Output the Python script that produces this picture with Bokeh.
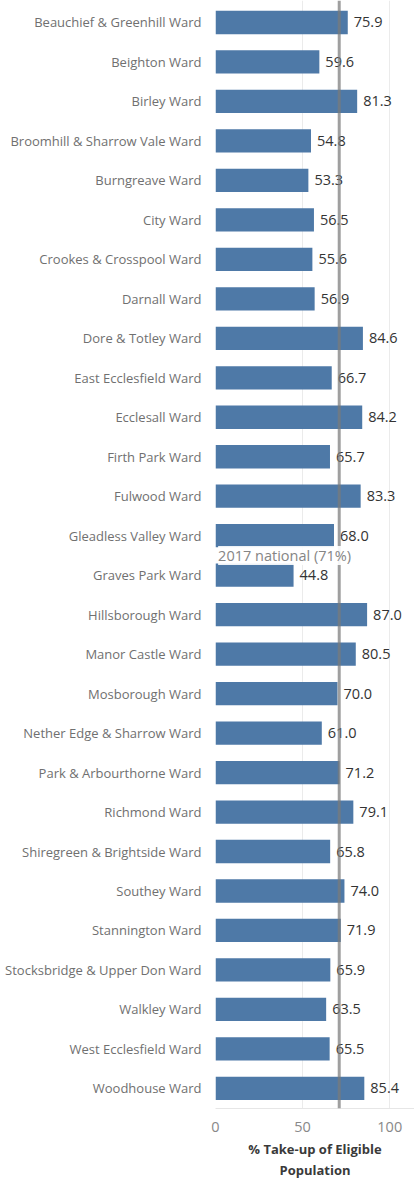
from bokeh.plotting import figure
from bokeh.models import ColumnDataSource, Range1d, FixedTicker, Span, Label
from bokeh.core.properties import value
from bokeh.embed import file_html
from bokeh.resources import INLINE

wards = [
    "Beauchief & Greenhill Ward", "Beighton Ward", "Birley Ward",
    "Broomhill & Sharrow Vale Ward", "Burngreave Ward", "City Ward",
    "Crookes & Crosspool Ward", "Darnall Ward", "Dore & Totley Ward",
    "East Ecclesfield Ward", "Ecclesall Ward", "Firth Park Ward",
    "Fulwood Ward", "Gleadless Valley Ward", "Graves Park Ward",
    "Hillsborough Ward", "Manor Castle Ward", "Mosborough Ward",
    "Nether Edge & Sharrow Ward", "Park & Arbourthorne Ward", "Richmond Ward",
    "Shiregreen & Brightside Ward", "Southey Ward", "Stannington Ward",
    "Stocksbridge & Upper Don Ward", "Walkley Ward", "West Ecclesfield Ward",
    "Woodhouse Ward",
]
takeup = [75.9, 59.6, 81.3, 54.8, 53.3, 56.5, 55.6, 56.9, 84.6, 66.7, 84.2,
          65.7, 83.3, 68.0, 44.8, 87.0, 80.5, 70.0, 61.0, 71.2, 79.1, 65.8,
          74.0, 71.9, 65.9, 63.5, 65.5, 85.4]
x_ticks = [0, 50, 100]
national = 71
national_label = "2017 national (71%)"
x_title = "% Take-up of Eligible\nPopulation"

FONT = "Open Sans"

idx = list(range(len(wards)))
src = ColumnDataSource(dict(
    y=idx, v=takeup, lbl=[f"{t:.1f}" for t in takeup]))

X_MAX = 114.2
p = figure(width=414, height=1183, output_backend="svg", toolbar_location=None,
           x_range=Range1d(0, X_MAX), y_range=Range1d(27.51, -0.557),
           min_border_top=0, min_border_right=0, min_border_left=215,
           min_border_bottom=75)
p.outline_line_color = None
p.background_fill_color = "white"

p.hbar(y="y", right="v", left=0, height=0.59, source=src,
       fill_color="#4e79a7", line_color=None)

p.text(x="v", y="y", text="lbl", source=src, x_offset=6,
       text_baseline="middle", text_align="left",
       text_font=value(FONT), text_font_size="14.5px", text_color="#333333")

p.add_layout(Span(location=national, dimension="height",
                  line_color="#7a7a7a", line_alpha=0.72, line_width=3))
p.add_layout(Label(x=1.5, y=13.5, text=national_label,
                   text_baseline="middle", text_align="left",
                   text_font=FONT, text_font_size="14.5px",
                   text_color="#858585",
                   background_fill_color="white", background_fill_alpha=0.9))

# x axis
p.xaxis.ticker = FixedTicker(ticks=x_ticks)
p.xaxis.axis_line_color = "#e6e6e6"
p.xaxis.major_tick_line_color = None
p.xaxis.minor_tick_line_color = None
p.xaxis.major_label_text_font = FONT
p.xaxis.major_label_text_font_size = "14.5px"
p.xaxis.major_label_text_color = "#888888"
p.xaxis.major_label_standoff = 7
p.xaxis.axis_label = x_title
p.xaxis.axis_label_text_font = FONT
p.xaxis.axis_label_text_font_size = "13px"
p.xaxis.axis_label_text_font_style = "bold"
p.xaxis.axis_label_text_color = "#3a3a3a"
p.xaxis.axis_label_text_line_height = 1.2
p.xaxis.axis_label_standoff = 5

# y axis
p.yaxis.ticker = FixedTicker(ticks=idx)
p.yaxis.major_label_overrides = {i: w for i, w in enumerate(wards)}
p.yaxis.axis_line_color = None
p.yaxis.major_tick_line_color = None
p.yaxis.minor_tick_line_color = None
p.yaxis.major_label_text_font = FONT
p.yaxis.major_label_text_font_size = "13px"
p.yaxis.major_label_text_color = "#707070"
p.yaxis.major_label_standoff = 8

p.xgrid.ticker = FixedTicker(ticks=x_ticks)
p.xgrid.grid_line_color = "#ebebeb"
p.ygrid.grid_line_color = None

open("out.html", "w").write(file_html(p, INLINE))
